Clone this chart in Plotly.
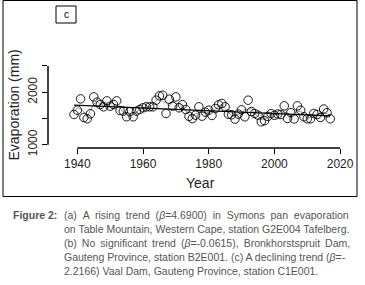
import plotly.graph_objects as go

years = list(range(1939, 2018))
evaporation = [
    1576, 1658, 1873, 1519, 1494, 1589, 1911, 1810, 1766, 1722,
    1835, 1734, 1766, 1835, 1652, 1639, 1532, 1627, 1532, 1639,
    1671, 1703, 1722, 1722, 1722, 1848, 1930, 1943, 1595, 1867,
    1734, 1911, 1703, 1765, 1671, 1540, 1497, 1563, 1722, 1544,
    1620, 1658, 1557, 1690, 1760, 1785, 1722, 1580, 1570, 1488,
    1585, 1665, 1532, 1848, 1632, 1595, 1563, 1437, 1458, 1540,
    1592, 1560, 1585, 1576, 1740, 1500, 1610, 1490, 1740, 1658,
    1532, 1494, 1494, 1595, 1576, 1519, 1680, 1608, 1494,
]
trend_years = [1939, 2017]
trend_values = [1753, 1550]

x_ticks = [1940, 1960, 1980, 2000, 2020]
y_ticks = [1000, 1500, 2000, 2500]
y_ticktext = ["1000", "", "2000", ""]

caption_label = "Figure 2:"
caption_lines = [
    "(a) A rising trend (<i>β</i>=4.6900) in Symons pan evaporation",
    "on Table Mountain, Western Cape, station G2E004 Tafelberg.",
    "(b) No significant trend (<i>β</i>=-0.0615), Bronkhorstspruit Dam,",
    "Gauteng Province, station B2E001. (c) A declining trend (<i>β</i>=-",
    "2.2166) Vaal Dam, Gauteng Province, station C1E001.",
]
# extra space character per word gap to imitate the justified caption
caption_pad = ["\u00a0", "", "\u2009", "", ""]

# smoothed guide line (3-point centred mean of the data)
smooth = []
for i in range(len(evaporation)):
    lo, hi = max(0, i - 1), min(len(evaporation), i + 2)
    seg = evaporation[lo:hi]
    smooth.append(sum(seg) / len(seg))

W, H = 365, 285
L, R, T, B = 48, 20, 60, 137
pw, ph = W - L - R, H - T - B


def px(x):
    return (x - L) / pw


def py(y):
    return (H - B - y) / ph


fig = go.Figure()
fig.add_trace(go.Scatter(x=years, y=smooth, mode="lines",
                         line=dict(color="#9a9a9a", width=1), hoverinfo="skip"))
fig.add_trace(go.Scatter(x=years, y=evaporation, mode="markers",
                         marker=dict(symbol="circle-open", size=8.5,
                                     color="black", line=dict(width=0.9))))
fig.add_trace(go.Scatter(x=trend_years, y=trend_values, mode="lines",
                         line=dict(color="black", width=1.2)))

shapes = [
    dict(type="line", xref="x", yref="paper", x0=1940, x1=2020, y0=0, y1=0,
         line=dict(color="black", width=1.5)),
    dict(type="line", xref="paper", yref="y", x0=0, x1=0, y0=1000, y1=2500,
         line=dict(color="black", width=1.5)),
    dict(type="rect", xref="paper", yref="paper", x0=px(3), x1=px(357),
         y0=py(196.5), y1=py(0.5), line=dict(color="black", width=1)),
    dict(type="rect", xref="paper", yref="paper", x0=px(56), x1=px(76),
         y0=py(23), y1=py(6), line=dict(color="black", width=1)),
]

font_main = "Liberation Sans, Arial, sans-serif"
cap_font = dict(family="Liberation Sans, Arial, sans-serif", size=10.5, color="#555")


def ann(text, x, y, xanchor="center", **kw):
    d = dict(text=text, x=px(x), y=py(y), xref="paper", yref="paper",
             xanchor=xanchor, yanchor="middle", showarrow=False)
    d.update(kw)
    return d


def justify(txt, pad):
    if not pad:
        return txt
    return (" " + pad).join(txt.split(" "))


annotations = [
    ann("c", 66, 14.5, font=dict(family=font_main, size=10, color="black")),
    ann("Year", 200, 183, font=dict(family=font_main, size=14, color="#222")),
    ann("Evaporation (mm)", 13.5, 105, textangle=-90,
        font=dict(family=font_main, size=14, color="#222")),
    ann("<b>" + caption_label + "</b>", 11, 215, xanchor="left", font=cap_font),
]
line_y = [215, 229, 243, 257, 271]
for txt, pad, yy in zip(caption_lines, caption_pad, line_y):
    annotations.append(ann(justify(txt, pad), 62, yy, xanchor="left", font=cap_font))

fig.update_layout(
    width=W, height=H,
    margin=dict(l=L, r=R, t=T, b=B, pad=0),
    paper_bgcolor="white", plot_bgcolor="white",
    showlegend=False,
    shapes=shapes, annotations=annotations,
    xaxis=dict(range=[1931.08, 2021.49], tickvals=x_ticks, showgrid=False,
               zeroline=False, showline=False, ticks="outside", ticklen=5,
               tickwidth=1.2, tickcolor="black", ticklabeloverflow="allow",
               tickfont=dict(family=font_main, size=12, color="#222")),
    yaxis=dict(range=[937, 2614], tickvals=y_ticks, ticktext=y_ticktext,
               showgrid=False, zeroline=False, showline=False, ticks="outside",
               ticklen=5, tickwidth=1.2, tickcolor="black", tickangle=-90,
               tickfont=dict(family=font_main, size=12, color="#222")),
)

fig.write_html("out.html", config={"displayModeBar": False},
               post_script="document.body.style.margin='0';document.body.style.overflow='hidden';")
